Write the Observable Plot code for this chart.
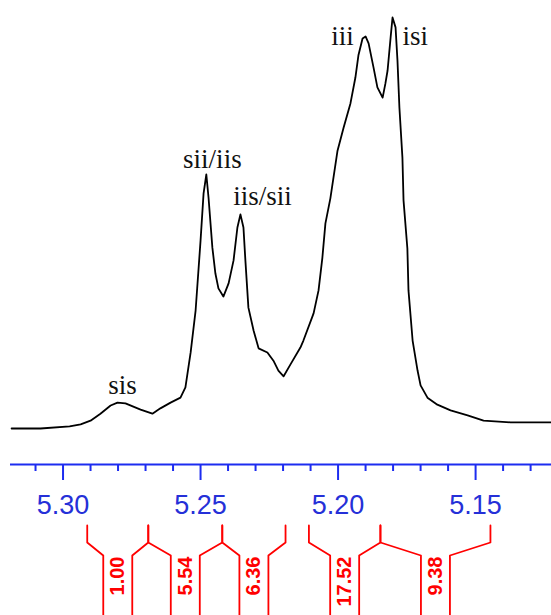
<!DOCTYPE html>
<html><head><meta charset="utf-8">
<script src="https://cdn.jsdelivr.net/npm/d3@7"></script>
<script src="https://cdn.jsdelivr.net/npm/@observablehq/plot@0.6"></script>
<style>
html,body{margin:0;padding:0;background:#fff;}
#chart svg{display:block;}
</style></head><body><div id="chart"></div>
<script>
// Spectrum (chemical shift, ppm) and relative intensity
const ppm = [5.3187,5.3082,5.2976,5.2936,5.2900,5.2864,5.2827,5.2802,5.2773,5.2718,5.2675,5.2646,5.2609,5.2573,5.2555,5.2536,5.2518,5.2500,5.2489,5.2479,5.2471,5.2457,5.2446,5.2435,5.2417,5.2398,5.2380,5.2366,5.2355,5.2344,5.2337,5.2326,5.2307,5.2289,5.2257,5.2235,5.2217,5.2198,5.2173,5.2137,5.2126,5.2089,5.2071,5.2057,5.2046,5.2028,5.2002,5.1980,5.1955,5.1937,5.1926,5.1911,5.1900,5.1889,5.1871,5.1857,5.1838,5.1828,5.1820,5.1809,5.1802,5.1791,5.1784,5.1777,5.1766,5.1762,5.1748,5.1744,5.1729,5.1711,5.1700,5.1675,5.1639,5.1591,5.1529,5.1471,5.1373,5.1224];
const intensity = [0,0,0.5,1.0,1.9,3.6,5.6,6.3,6.1,4.6,3.6,4.9,6.3,7.5,10.0,18.5,28.7,45.7,57.2,61.8,56.2,44.0,37.7,34.1,32.1,35.3,40.9,48.9,52.1,48.9,40.9,29.4,23.8,19.5,18.5,16.5,14.1,12.7,15.6,19.7,21.4,28.0,33.6,41.6,49.9,56.0,67.6,73.2,79.1,85.4,90.8,94.9,95.4,93.7,87.8,83.0,80.5,83.9,87.1,95.1,100,97.6,89.5,78.1,65.9,55.5,43.8,33.6,21.4,14.1,10.5,7.5,5.8,4.4,3.2,1.9,1.5,1.5];

// Peak annotations
const peakLabels = ["sis","sii/iis","iis/sii","iii","isi"];
const peakLabelPpm = [5.2784,5.2457,5.2275,5.1984,5.1719];
const peakLabelHeight = [8.3,63.3,54.3,93.2,93.2];

// Integral regions
const integralStart = [5.2912,5.2690,5.2421,5.2106,5.1846];
const integralEnd   = [5.2690,5.2421,5.2191,5.1846,5.1446];
const integralValues = ["1.00","5.54","6.36","17.52","9.38"];

// Axis ticks
const majorTicks = [5.30,5.25,5.20,5.15];
const minorTicks = [5.31,5.29,5.28,5.27,5.26,5.24,5.23,5.22,5.21,5.19,5.18,5.17,5.16,5.14,5.13];

const W = 551;
const xDomain = [5.3191, 5.1224];
const yDomain = [-8.76, 100];
const axisBlue = "#1c2cf0";
const textBlue = "#2530d8";

const spectrum = ppm.map((p, i) => ({ppm: p, intensity: intensity[i]}));
const peaks = peakLabels.map((l, i) => ({label: l, ppm: peakLabelPpm[i], h: peakLabelHeight[i]}));

const topPlot = Plot.plot({
  width: W, height: 520,
  marginLeft: 10, marginRight: 0, marginTop: 17, marginBottom: 56,
  x: {domain: xDomain, label: null},
  y: {domain: yDomain, axis: null},
  style: {background: "white", overflow: "visible", fontFamily: "'Liberation Sans', Arial, sans-serif"},
  marks: [
    Plot.axisX(minorTicks, {tickSize: 7, stroke: axisBlue, strokeWidth: 2, tickFormat: () => "", label: null}),
    Plot.axisX(majorTicks, {tickSize: 16, tickPadding: 14, stroke: axisBlue, fill: textBlue, strokeWidth: 2,
      tickFormat: d3.format(".2f"), fontSize: 27, label: null}),
    Plot.ruleY([yDomain[0]], {stroke: axisBlue, strokeWidth: 2}),
    Plot.line(spectrum, {x: "ppm", y: "intensity", stroke: "black", strokeWidth: 1.8}),
    Plot.text(peaks, {x: "ppm", y: "h", text: "label", lineAnchor: "bottom", fontSize: 27,
      fontFamily: "'Liberation Serif', 'Times New Roman', serif", fill: "#111"})
  ]
});

// Integral brackets below the axis
const halfBox = 14.5 / ((W - 10) / (xDomain[0] - xDomain[1]));
const segs = [];
const intRows = [];
integralStart.forEach((s, i) => {
  const e = integralEnd[i], c = (s + e) / 2;
  segs.push({g: i + "L", x: s, y: 5}, {g: i + "L", x: s, y: 22}, {g: i + "L", x: c + halfBox, y: 35}, {g: i + "L", x: c + halfBox, y: 95});
  segs.push({g: i + "R", x: e, y: 5}, {g: i + "R", x: e, y: 22}, {g: i + "R", x: c - halfBox, y: 35}, {g: i + "R", x: c - halfBox, y: 95});
  intRows.push({x: c, v: integralValues[i]});
});

const bottomPlot = Plot.plot({
  width: W, height: 95,
  marginLeft: 10, marginRight: 0, marginTop: 0, marginBottom: 0,
  x: {domain: xDomain, axis: null},
  y: {domain: [0, 95], range: [0, 95], axis: null},
  style: {background: "white", overflow: "visible", fontFamily: "'Liberation Sans', Arial, sans-serif"},
  marks: [
    Plot.line(segs, {x: "x", y: "y", z: "g", stroke: "#ff0000", strokeWidth: 1.8}),
    Plot.text(intRows, {x: "x", y: () => 36, text: "v", rotate: -90, textAnchor: "end", lineAnchor: "middle",
      fontSize: 20, fontWeight: "bold", fill: "#ff0000"})
  ]
});

document.getElementById("chart").append(topPlot, bottomPlot);
</script>
</body></html>
